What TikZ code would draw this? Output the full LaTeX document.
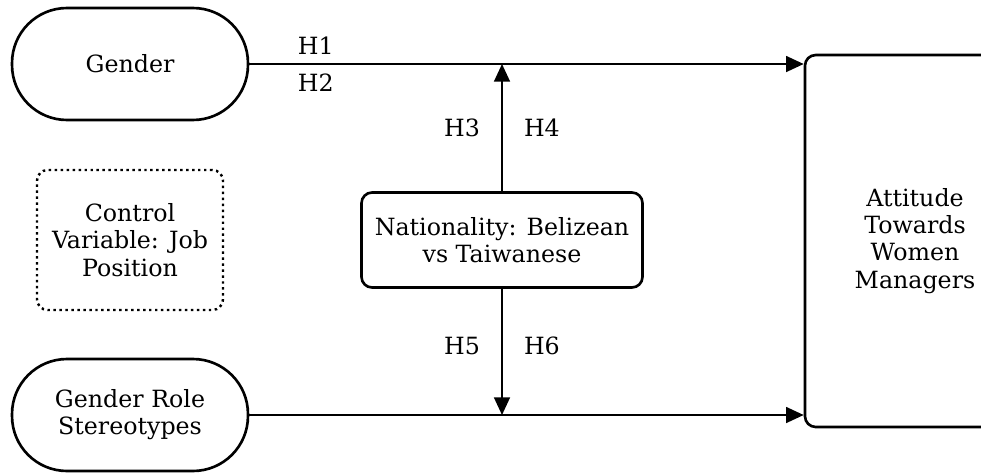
\documentclass[tikz,border=0pt]{standalone}
\usepackage{fontspec}
\setmainfont{DejaVu Serif}
\usetikzlibrary{arrows.meta, positioning}
\tikzset{%
  >={Triangle[width=9pt, length=10pt]}, % filled arrow heads
  x=0.02cm, y=-0.02cm, % one unit is one pixel of the reference
  % rounded input variables
  varpill/.style={rectangle, draw, line width=1.5pt, rounded corners=1.1cm,
    minimum width=4.72cm, minimum height=2.24cm, align=center},
  % moderator and outcome boxes
  varbox/.style={rectangle, draw, line width=1.5pt, rounded corners=6pt, align=center},
  % control variable
  ctrlbox/.style={rectangle, draw, dotted, line width=1.4pt, rounded corners=6pt,
    minimum width=3.72cm, minimum height=2.8cm, align=center},
  path/.style={->, line width=1.1pt},
  hyp/.style={inner sep=2pt},
}

\begin{document}
\begin{tikzpicture}[font=\fontsize{13.5}{15.5}\selectfont]
  \useasboundingbox (0,0) rectangle (981,474);
  \clip (0,0) rectangle (981,474);

  \node[varpill] (gen) at (130,64) {Gender};
  \node[varpill] (role) at (130,415) {Gender Role\\Stereotypes};
  \node[ctrlbox] (ctrl) at (130,240) {Control\\Variable: Job\\Position};
  \node[varbox, minimum width=5.62cm, minimum height=1.9cm] (nat) at (502,240)
    {Nationality: Belizean\\vs Taiwanese};
  \node[varbox, minimum width=4.4cm, minimum height=7.44cm] (att) at (915,241)
    {Attitude\\Towards\\Women\\Managers};

  \coordinate (mtop) at (nat.north |- gen.east);
  \coordinate (mbot) at (nat.south |- role.east);

  % direct effects
  \draw[path] (gen.east) -- node[pos=0.12, above=3pt, hyp] {H1}
    node[pos=0.12, below=3pt, hyp] {H2} (gen.east -| att.west);
  \draw[path] (role.east) -- (role.east -| att.west);

  % moderation
  \draw[path] (nat.north) -- node[midway, left=10pt, hyp] {H3}
    node[midway, right=10pt, hyp] {H4} (mtop);
  \draw[path] (nat.south) -- node[pos=0.45, left=10pt, hyp] {H5}
    node[pos=0.45, right=10pt, hyp] {H6} (mbot);
\end{tikzpicture}
\end{document}
